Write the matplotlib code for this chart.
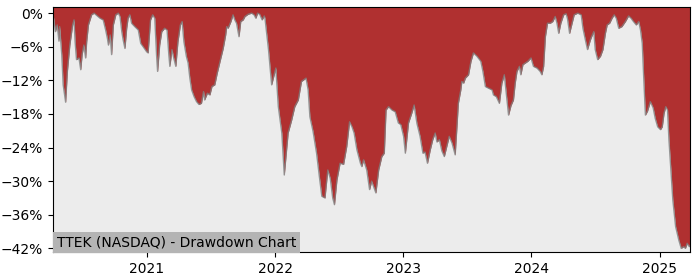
import matplotlib
matplotlib.use("Agg")
import matplotlib.pyplot as plt
import matplotlib.dates as mdates
from matplotlib.ticker import MultipleLocator, PercentFormatter
import pandas as pd

title = "TTEK (NASDAQ) - Drawdown Chart"

dates = [
    "2020-04-08", "2020-04-10", "2020-04-15", "2020-04-20", "2020-04-25", "2020-04-27",
    "2020-05-03", "2020-05-07", "2020-05-14", "2020-05-19", "2020-05-26", "2020-06-03",
    "2020-06-07", "2020-06-10", "2020-06-14", "2020-06-21", "2020-06-26", "2020-06-30",
    "2020-07-05", "2020-07-10", "2020-07-13", "2020-07-18", "2020-07-27", "2020-08-03",
    "2020-08-20", "2020-08-29", "2020-09-05", "2020-09-10", "2020-09-13", "2020-09-18",
    "2020-09-22", "2020-09-27", "2020-10-04", "2020-10-11", "2020-10-16", "2020-10-21",
    "2020-10-25", "2020-10-30", "2020-11-04", "2020-11-08", "2020-11-13", "2020-11-18",
    "2020-11-27", "2020-12-07", "2020-12-14", "2020-12-21", "2020-12-31",
    "2021-01-04", "2021-01-11", "2021-01-17", "2021-01-23", "2021-01-28", "2021-01-31",
    "2021-02-06", "2021-02-12", "2021-02-20", "2021-02-27", "2021-03-04", "2021-03-07",
    "2021-03-13", "2021-03-18", "2021-03-24", "2021-03-30", "2021-04-06", "2021-04-11",
    "2021-04-16", "2021-04-23", "2021-04-28", "2021-05-03", "2021-05-08", "2021-05-15",
    "2021-05-22", "2021-05-29", "2021-06-05", "2021-06-11", "2021-06-14", "2021-06-22",
    "2021-06-29", "2021-07-05", "2021-07-13", "2021-07-20", "2021-07-28", "2021-08-06",
    "2021-08-13", "2021-08-16", "2021-08-20", "2021-08-28", "2021-09-03", "2021-09-08",
    "2021-09-13", "2021-09-20", "2021-09-25", "2021-10-02", "2021-10-07", "2021-10-16",
    "2021-10-26", "2021-11-02", "2021-11-07", "2021-11-12", "2021-11-18", "2021-11-25",
    "2021-12-01", "2021-12-03", "2021-12-13", "2021-12-22",
    "2022-01-03", "2022-01-10", "2022-01-20", "2022-01-27", "2022-02-07", "2022-02-17",
    "2022-02-26", "2022-03-08", "2022-03-17", "2022-03-30", "2022-04-05", "2022-04-10",
    "2022-04-19", "2022-04-29", "2022-05-07", "2022-05-14", "2022-05-23", "2022-05-31",
    "2022-06-07", "2022-06-14", "2022-06-19", "2022-06-26", "2022-07-05", "2022-07-15",
    "2022-07-24", "2022-08-01", "2022-08-08", "2022-08-14", "2022-08-22", "2022-09-01",
    "2022-09-05", "2022-09-10", "2022-09-19", "2022-09-27", "2022-10-03", "2022-10-10",
    "2022-10-15", "2022-10-23", "2022-11-01", "2022-11-08", "2022-11-13", "2022-11-20",
    "2022-11-30", "2022-12-09", "2022-12-18", "2022-12-25",
    "2023-01-02", "2023-01-07", "2023-01-16", "2023-01-25", "2023-02-01", "2023-02-09",
    "2023-02-18", "2023-02-26", "2023-03-04", "2023-03-11", "2023-03-19", "2023-03-26",
    "2023-04-02", "2023-04-07", "2023-04-14", "2023-04-21", "2023-04-28", "2023-05-05",
    "2023-05-12", "2023-05-20", "2023-05-29", "2023-06-03", "2023-06-07", "2023-06-14",
    "2023-06-17", "2023-06-22", "2023-06-27", "2023-07-06", "2023-07-13", "2023-07-20",
    "2023-07-30", "2023-08-10", "2023-08-16", "2023-08-23", "2023-09-01", "2023-09-11",
    "2023-09-15", "2023-09-23", "2023-10-02", "2023-10-09", "2023-10-16", "2023-10-22",
    "2023-10-28", "2023-11-04", "2023-11-11", "2023-11-16", "2023-11-21", "2023-11-28",
    "2023-12-02", "2023-12-08", "2023-12-15", "2023-12-22", "2023-12-31",
    "2024-01-07", "2024-01-17", "2024-01-26", "2024-01-31", "2024-02-05", "2024-02-10",
    "2024-02-16", "2024-02-24", "2024-03-02", "2024-03-09", "2024-03-14", "2024-03-19",
    "2024-03-25", "2024-04-02", "2024-04-09", "2024-04-13", "2024-04-19", "2024-04-26",
    "2024-05-02", "2024-05-12", "2024-05-22", "2024-05-27", "2024-06-03", "2024-06-09",
    "2024-06-17", "2024-06-22", "2024-06-27", "2024-07-01", "2024-07-08", "2024-07-16",
    "2024-07-23", "2024-07-30", "2024-08-04", "2024-08-11", "2024-08-18", "2024-08-24",
    "2024-08-30", "2024-09-06", "2024-09-15", "2024-09-25", "2024-10-04", "2024-10-11",
    "2024-10-18", "2024-10-26", "2024-11-02", "2024-11-07", "2024-11-12", "2024-11-16",
    "2024-11-21", "2024-11-27", "2024-12-05", "2024-12-13", "2024-12-19", "2024-12-26",
    "2025-01-03", "2025-01-08", "2025-01-13", "2025-01-18", "2025-01-23", "2025-01-27",
    "2025-02-01", "2025-02-07", "2025-02-15", "2025-02-24", "2025-03-03", "2025-03-10",
    "2025-03-15", "2025-03-20", "2025-03-26", "2025-03-28",
]

drawdown = [
    -0.5, -0.9, -3.3, -2.1, -5.0, -2.4,
    -7.4, -12.8, -15.9, -10.4, -5.7, -2.1,
    -1.2, -5.1, -8.3, -8.0, -10.1, -7.4,
    -5.7, -8.0, -5.1, -2.1, -0.3, 0.0,
    -0.9, -1.2, -3.0, -4.5, -5.7, -3.9,
    -7.4, -2.1, -0.3, 0.0, -0.6, -3.3,
    -4.8, -6.3, -2.7, -0.9, -0.3, -1.8,
    -2.4, -3.0, -5.4, -6.0, -6.9,
    -7.1, -1.2, -0.3, -0.9, -7.4, -10.4,
    -5.7, -3.3, -2.7, -3.0, -7.4, -9.5,
    -6.5, -8.0, -9.5, -5.1, -2.1, -1.5,
    -5.1, -7.7, -8.9, -11.6, -13.7, -14.9,
    -15.8, -16.3, -16.1, -14.0, -15.5, -14.3,
    -14.6, -13.1, -12.8, -10.7, -8.6, -6.3,
    -3.9, -2.4, -2.7, -1.5, -0.3, -1.2,
    -1.8, -4.2, -1.5, -1.2, -0.6, -0.2,
    0.0, -0.3, -0.9, 0.0, -0.2, -1.2,
    -0.5, -0.9, -6.5, -12.8,
    -9.8, -16.7, -21.4, -28.9, -21.4, -19.1,
    -16.7, -15.5, -12.2, -11.6, -13.7, -18.5,
    -21.1, -25.0, -29.2, -32.7, -33.0, -28.0,
    -29.5, -33.0, -34.2, -29.8, -26.8, -27.0,
    -23.8, -19.4, -20.3, -21.4, -24.4, -26.8,
    -27.4, -26.2, -28.0, -31.5, -30.0, -31.2,
    -32.1, -28.0, -25.6, -25.0, -17.3, -16.7,
    -17.3, -17.6, -19.6, -19.9,
    -22.0, -25.0, -19.6, -17.9, -16.4, -19.7,
    -22.0, -25.0, -24.8, -26.8, -24.4, -22.6,
    -21.4, -23.0, -22.6, -24.6, -25.6, -23.8,
    -22.0, -23.2, -25.3, -20.3, -16.1, -13.7,
    -12.2, -12.5, -11.6, -11.0, -8.6, -7.1,
    -7.7, -8.6, -10.4, -13.1, -13.4, -13.7,
    -14.6, -14.9, -16.1, -12.5, -11.0, -14.6,
    -18.2, -16.5, -15.5, -12.5, -10.4, -9.5,
    -11.0, -9.2, -8.9, -8.6, -8.0,
    -9.5, -9.8, -10.4, -11.0, -9.5, -4.2,
    -1.8, -1.8, -1.5, -0.6, -1.8, -3.6,
    -1.8, -0.3, -0.1, -1.0, -3.6, -1.8,
    -0.3, 0.0, -0.3, -2.7, -4.8, -6.5,
    -4.8, -4.0, -3.3, -6.5, -8.3, -7.7,
    -6.5, -3.6, -2.1, -1.8, -0.9, -0.3,
    -0.9, -2.7, -2.4, -1.5, -0.5, -0.9,
    -1.5, -2.1, -1.5, -3.0, -5.4, -11.3,
    -18.2, -17.5, -15.8, -16.9, -18.8, -20.3,
    -20.8, -20.3, -17.9, -16.7, -17.3, -22.6,
    -27.4, -33.3, -38.1, -40.5, -42.0, -41.7,
    -42.0, -41.1, -41.7, -41.5,
]

x = pd.to_datetime(dates)
yTop = 1.1
yBottom = -42.7

fig = plt.figure(figsize=(7, 2.8), dpi=100)
ax = fig.add_axes([0.0757, 0.099, 0.91, 0.876])
ax.set_facecolor("#ececec")

# red area runs from the drawdown line up to the top of the axes
ax.fill_between(x, drawdown, yTop, color="#b03030", linewidth=0)
ax.plot(x, drawdown, color="gray", linewidth=1, alpha=0.8)

ax.set_xlim(x[0], x[-1])
ax.set_ylim(yBottom, yTop)
ax.yaxis.set_major_locator(MultipleLocator(6))
ax.yaxis.set_major_formatter(PercentFormatter(xmax=100, decimals=0))
ax.xaxis.set_major_locator(mdates.YearLocator())
ax.xaxis.set_major_formatter(mdates.DateFormatter("%Y"))

ax.text(0.006, 0.012, title, transform=ax.transAxes, fontsize=10, va="bottom", ha="left",
        bbox=dict(boxstyle="square,pad=0.25", facecolor="#b4b4b4", edgecolor="none"))

fig.savefig("out.png", dpi=100)
